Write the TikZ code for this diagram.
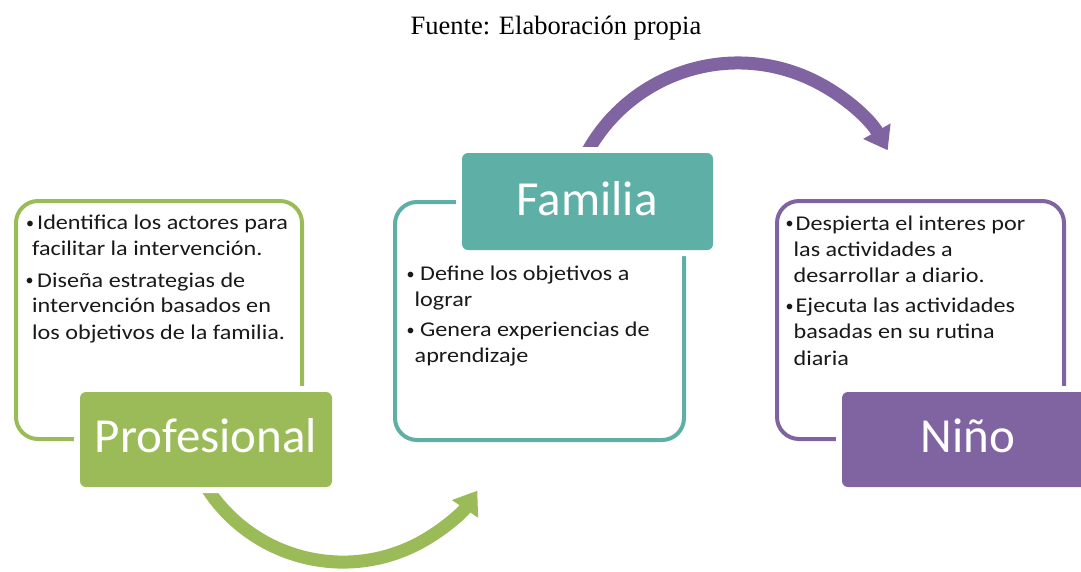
\documentclass[tikz,border=0pt]{standalone}
\usepackage{fontspec}
\setmainfont{Liberation Serif}
\newfontfamily\bodyfont{Carlito}[FakeStretch=1.15]
\newfontfamily\labelfont{Carlito}
\usetikzlibrary{arrows.meta}
\definecolor{cgreen}{RGB}{155,187,89}
\definecolor{cteal}{RGB}{94,175,165}
\definecolor{cpurple}{RGB}{128,100,162}
\definecolor{ctext}{RGB}{25,25,25}
\begin{document}
\begin{tikzpicture}[x=1pt,y=-1pt,
  outline/.style={draw=#1, line width=4pt, rounded corners=22pt, fill=white, inner sep=0pt, outer sep=0pt, anchor=north west},
  labelbox/.style={fill=#1, rounded corners=6pt, preaction={draw=white, line width=12pt}, inner sep=0pt, outer sep=0pt, anchor=north west},
  labeltext/.style={text=white, font=\labelfont\fontsize{49}{58}\selectfont, anchor=base, inner sep=0pt},
  bodytext/.style={font=\bodyfont\fontsize{21}{25}\selectfont, anchor=base west, inner sep=0pt, text=ctext},
  bullettext/.style={font=\labelfont\fontsize{16}{20}\selectfont, anchor=base west, inner sep=0pt, text=ctext},
  bigarrow/.style={draw=#1, line width=13pt, -{Triangle[length=22pt,width=30pt]}},
  titletext/.style={font=\fontsize{26.5}{32}\selectfont, anchor=base, inner sep=0pt},
]
\useasboundingbox (0,0) rectangle (1081,571);

% title
\node[titletext] (title) at (556,34) {Fuente: Elaboración propia};

% curved arrows (drawn first, their starts hidden behind the label boxes)
\coordinate (gstart) at (200.0,476.1);
\coordinate (pstart) at (582.1,162.3);
\draw[bigarrow=cgreen] (gstart) arc[start angle=152, end angle=34, radius=162];
\draw[bigarrow=cpurple] (pstart) arc[start angle=-155, end angle=-29.5, radius=172];

% outline boxes
\node[outline=cgreen, minimum width=286pt, minimum height=238pt] (pout) at (16,201) {};
\node[outline=cteal, minimum width=289pt, minimum height=238pt] (fout) at (395,202) {};
\node[outline=cpurple, minimum width=287pt, minimum height=238pt] (nout) at (777,201) {};

% label boxes
\node[labelbox=cgreen, minimum width=252pt, minimum height=95pt] (plab) at (80,392) {};
\node[labelbox=cteal, minimum width=251pt, minimum height=97pt] (flab) at (462,153) {};
\node[labelbox=cpurple, minimum width=246pt, minimum height=95pt] (nlab) at (842,392) {};

\node[labeltext] (ptxt) at (206,452) {Profesional};
\node[labeltext] (ftxt) at (587,215) {Familia};
\node[labeltext] (ntxt) at (968,452) {Niño};

% Profesional text
\node[bullettext] (pb1) at (26,228) {•};
\node[bodytext] (p1) at (37,229.5) {Identifica los actores para};
\node[bodytext] (p2) at (32,255) {facilitar la intervención.};
\node[bullettext] (pb2) at (25.5,285.5) {•};
\node[bodytext] (p3) at (37,287) {Diseña estrategias de};
\node[bodytext] (p4) at (32,312.5) {intervención basados en};
\node[bodytext] (p5) at (32,339) {los objetivos de la familia.};

% Familia text
\node[bullettext] (fb1) at (406.5,279) {•};
\node[bodytext] (f1) at (420,280.5) {Define los objetivos a};
\node[bodytext] (f2) at (414.5,306) {lograr};
\node[bullettext] (fb2) at (406.5,335) {•};
\node[bodytext] (f3) at (420,336.5) {Genera experiencias de};
\node[bodytext] (f4) at (414.5,362.5) {aprendizaje};

% Niño text
\node[bullettext] (nb1) at (785.5,228.5) {•};
\node[bodytext] (n1) at (795.5,230) {Despierta el interes por};
\node[bodytext] (n2) at (793.5,256) {las actividades a};
\node[bodytext] (n3) at (793.5,282.7) {desarrollar a diario.};
\node[bullettext] (nb2) at (785.5,311) {•};
\node[bodytext] (n4) at (795.5,312.5) {Ejecuta las actividades};
\node[bodytext] (n5) at (793.5,338.3) {basadas en su rutina};
\node[bodytext] (n6) at (793.5,365) {diaria};
\end{tikzpicture}
\end{document}
